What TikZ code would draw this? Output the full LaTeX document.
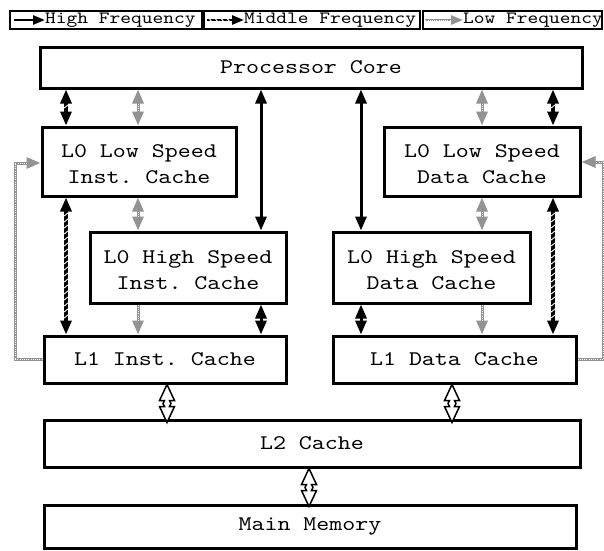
\documentclass[tikz,border=0pt]{standalone}
\usepackage{fontspec}
\setmonofont{lmmono10-regular.otf}[FakeStretch=1.19]
\usetikzlibrary{arrows.meta,decorations.markings,calc}

\tikzset{
  x=1pt, y=-1pt,
  cbox/.style={draw, line width=3pt, fill=white, inner sep=0pt, align=center,
    font=\ttfamily\fontsize{20.8}{26}\selectfont},
  lgbox/.style={draw, line width=1.2pt, inner sep=0pt},
  lgtext/.style={anchor=west, inner sep=0pt, font=\ttfamily\fontsize{17.2}{20}\selectfont},
  lowgray/.style={color=gray!85},
  % high frequency: solid black
  hiarr/.style={line width=3pt, {Triangle[length=14pt,width=11pt]}-{Triangle[length=14pt,width=11pt]}},
  % middle frequency: black with white slashes
  slashes/.style={postaction={decorate, decoration={markings,
      mark=between positions #1 step 6pt with
      {\draw[white, line width=0.9pt, arrows=-] (-1.5pt,1.8pt) -- (1.5pt,-1.8pt);}}}},
  midarr/.style={line width=3.2pt, {Triangle[length=14pt,width=11pt]}-{Triangle[length=14pt,width=11pt]},
    slashes={17pt and -17pt}},
  % low frequency: gray with a dotted core
  dotcore/.style={postaction={draw, white, line width=0.9pt, dash pattern=on 0.9pt off 1.3pt, arrows=-, #1}},
  lowarr/.style={lowgray, line width=3pt,
    {Triangle[length=14pt,width=11pt]}-{Triangle[length=14pt,width=11pt]},
    dotcore={shorten <=14pt, shorten >=14pt}},
  lowone/.style={lowgray, line width=3pt, -{Triangle[length=14pt,width=11pt]},
    dotcore={shorten >=14pt}},
  openarr/.style={draw, line width=1.5pt, fill=white},
}

\begin{document}
\begin{tikzpicture}
\useasboundingbox (0,0) rectangle (604,550);

% legend
\node[lgbox, minimum width=192pt, minimum height=18pt] (lg1) at (106,20) {};
\node[lgbox, minimum width=216pt, minimum height=18pt] (lg2) at (312,20) {};
\node[lgbox, minimum width=179pt, minimum height=18pt] (lg3) at (512.5,20) {};
\node[lgtext] (lt1) at (45,20) {High Frequency};
\node[lgtext] (lt2) at (244,20) {Middle Frequency};
\node[lgtext] (lt3) at (463,20) {Low Frequency};
\draw[line width=2.5pt, -{Triangle[length=12pt,width=9pt]}] ([xshift=5pt]lg1.west) -- (lt1.west);
\draw[line width=2.5pt, -{Triangle[length=12pt,width=9pt]}, slashes={3pt and -13pt}] ([xshift=4pt]lg2.west) -- (lt2.west);
\draw[lowgray, line width=2.5pt, -{Triangle[length=12pt,width=9pt]}, dotcore={shorten >=12pt}] ([xshift=3pt]lg3.west) -- (lt3.west);

% memory blocks
\node[cbox, minimum width=542pt, minimum height=41pt] (pc) at (311,67.5) {Processor Core};
\node[cbox, minimum width=194pt, minimum height=69pt] (l0li) at (139,161.5) {\strut L0 Low Speed\\Inst. Cache};
\node[cbox, minimum width=196pt, minimum height=71pt] (l0hi) at (188,267.5) {\strut L0 High Speed\\Inst. Cache};
\node[cbox, minimum width=242pt, minimum height=47pt] (l1i) at (165,359.5) {L1 Inst. Cache};
\node[cbox, minimum width=196pt, minimum height=69pt] (l0ld) at (482,161.5) {\strut L0 Low Speed\\Data Cache};
\node[cbox, minimum width=197pt, minimum height=71pt] (l0hd) at (431.5,267.5) {\strut L0 High Speed\\Data Cache};
\node[cbox, minimum width=243pt, minimum height=47pt] (l1d) at (454.5,359.5) {L1 Data Cache};
\node[cbox, minimum width=536pt, minimum height=47pt] (l2) at (312,443.5) {L2 Cache};
\node[cbox, minimum width=532pt, minimum height=43pt] (mm) at (310,526.5) {Main Memory};

% connector columns
\coordinate (cA) at (66,0);
\coordinate (cB) at (138,0);
\coordinate (cC) at (261,0);
\coordinate (cE) at (361,0);
\coordinate (cF) at (482,0);
\coordinate (cG) at (553,0);
\coordinate (cH) at (167,0);
\coordinate (cI) at (452,0);
\coordinate (cJ) at (309,0);
\coordinate (fbL) at (15,163);
\coordinate (fbR) at (603,162);

% instruction side
\draw[midarr] (pc.south -| cA) -- (l0li.north -| cA);
\draw[lowarr] (pc.south -| cB) -- (l0li.north -| cB);
\draw[hiarr] (pc.south -| cC) -- (l0hi.north -| cC);
\draw[midarr] (l0li.south -| cA) -- (l1i.north -| cA);
\draw[lowarr] (l0li.south -| cB) -- (l0hi.north -| cB);
\draw[lowone] (l0hi.south -| cB) -- (l1i.north -| cB);
\draw[hiarr] (l0hi.south -| cC) -- (l1i.north -| cC);
\draw[lowone] (l1i.west) -| (fbL) -- (fbL -| l0li.west);

% data side
\draw[hiarr] (pc.south -| cE) -- (l0hd.north -| cE);
\draw[lowarr] (pc.south -| cF) -- (l0ld.north -| cF);
\draw[midarr] (pc.south -| cG) -- (l0ld.north -| cG);
\draw[lowarr] (l0ld.south -| cF) -- (l0hd.north -| cF);
\draw[midarr] (l0ld.south -| cG) -- (l1d.north -| cG);
\draw[hiarr] (l0hd.south -| cE) -- (l1d.north -| cE);
\draw[lowone] (l0hd.south -| cF) -- (l1d.north -| cF);
\draw[lowone] (l1d.east) -| (fbR) -- (fbR -| l0ld.east);

% wide two-way links to the lower levels
\draw[openarr] (l1i.south -| cH) -- ++(7.5,16) -- ++(-5,0) -- ++(1.5,3) -- ++(-1.5,3)
  -- ++(5,0) -- ++(-7.5,16) -- ++(-7.5,-16) -- ++(5,0) -- ++(-1.5,-3) -- ++(1.5,-3)
  -- ++(-5,0) -- cycle;
\draw[openarr] (l1d.south -| cI) -- ++(7.5,16) -- ++(-5,0) -- ++(1.5,3) -- ++(-1.5,3)
  -- ++(5,0) -- ++(-7.5,16) -- ++(-7.5,-16) -- ++(5,0) -- ++(-1.5,-3) -- ++(1.5,-3)
  -- ++(-5,0) -- cycle;
\draw[openarr] (l2.south -| cJ) -- ++(7.5,16) -- ++(-5,0) -- ++(1.5,3) -- ++(-1.5,3)
  -- ++(5,0) -- ++(-7.5,16) -- ++(-7.5,-16) -- ++(5,0) -- ++(-1.5,-3) -- ++(1.5,-3)
  -- ++(-5,0) -- cycle;
\end{tikzpicture}
\end{document}
